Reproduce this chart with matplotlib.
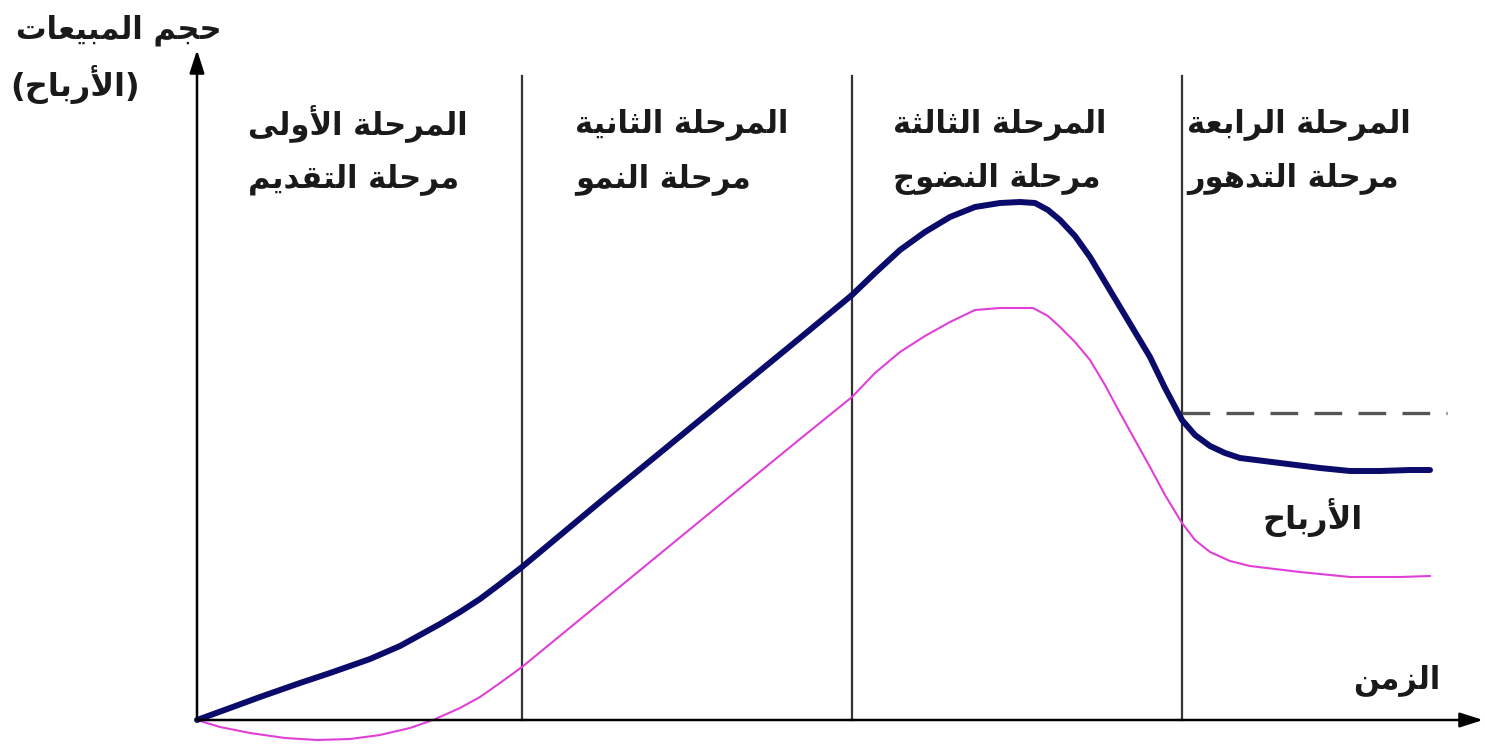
import matplotlib
matplotlib.use("Agg")
import matplotlib.pyplot as plt

# --- data (x: time, y: sales volume) ---
# origin of the chart sits at the corner of the two axes
sales_x = [0, 33, 63, 103, 133, 173, 203, 243, 263, 283, 303, 325,
           403, 503, 603,
           655, 678, 703, 728, 753, 778, 803, 823, 838, 851, 863, 878, 893, 908,
           923, 938, 953, 968, 985,
           998, 1013, 1028, 1043, 1083, 1123, 1153, 1183, 1213, 1233]
sales_y = [0, 12, 23, 37, 47, 61, 74, 96, 108, 121, 136, 153,
           218, 300, 382,
           425, 447, 470, 488, 503, 513, 517, 518, 517, 510, 500, 484, 463, 438,
           413, 388, 363, 332, 300,
           285, 274, 267, 262, 257, 252, 249, 249, 250, 250]

profit_x = [0, 23, 53, 88, 120, 153, 183, 213, 236, 263, 283, 303, 325,
            403, 503, 603,
            655, 678, 703, 728, 753, 778, 803, 836, 851, 863, 878, 893, 908, 923,
            938, 953, 968, 985,
            998, 1013, 1033, 1053, 1103, 1153, 1203, 1233]
profit_y = [0, -7, -13, -18, -20, -19, -15, -8, 0, 12, 23, 37, 53,
            117, 199, 281,
            323, 347, 368, 384, 398, 410, 412, 412, 404, 393, 378, 360, 335, 307,
            280, 253, 225, 197,
            180, 168, 159, 154, 148, 143, 143, 144]

stage_bounds = [325, 655, 985]
stage_top = 644
decline_ref = 307           # dashed reference level in the decline stage
x_end, y_end = 1286, 670    # arrow tips of the two axes

stage_line1 = ["المرحلة الأولى", "المرحلة الثانية", "المرحلة الثالثة", "المرحلة الرابعة"]
stage_line2 = ["مرحلة التقديم", "مرحلة النمو", "مرحلة النضوج", "مرحلة التدهور"]
stage_text_x = [51, 378, 696, 990]

y_title = ["حجم المبيعات", "(الأرباح)"]
x_title = "الزمن"
profit_label = "الأرباح"


# --- tiny Arabic shaper (no arabic_reshaper / bidi available) ---
FORMS = {
    'ا': (0xFE8D, 0xFE8E, None, None),
    'أ': (0xFE83, 0xFE84, None, None),
    'ب': (0xFE8F, 0xFE90, 0xFE91, 0xFE92),
    'ة': (0xFE93, 0xFE94, None, None),
    'ت': (0xFE95, 0xFE96, 0xFE97, 0xFE98),
    'ث': (0xFE99, 0xFE9A, 0xFE9B, 0xFE9C),
    'ج': (0xFE9D, 0xFE9E, 0xFE9F, 0xFEA0),
    'ح': (0xFEA1, 0xFEA2, 0xFEA3, 0xFEA4),
    'د': (0xFEA9, 0xFEAA, None, None),
    'ر': (0xFEAD, 0xFEAE, None, None),
    'ز': (0xFEAF, 0xFEB0, None, None),
    'ض': (0xFEBD, 0xFEBE, 0xFEBF, 0xFEC0),
    'ع': (0xFEC9, 0xFECA, 0xFECB, 0xFECC),
    'ق': (0xFED5, 0xFED6, 0xFED7, 0xFED8),
    'ل': (0xFEDD, 0xFEDE, 0xFEDF, 0xFEE0),
    'م': (0xFEE1, 0xFEE2, 0xFEE3, 0xFEE4),
    'ن': (0xFEE5, 0xFEE6, 0xFEE7, 0xFEE8),
    'ه': (0xFEE9, 0xFEEA, 0xFEEB, 0xFEEC),
    'و': (0xFEED, 0xFEEE, None, None),
    'ى': (0xFEEF, 0xFEF0, None, None),
    'ي': (0xFEF1, 0xFEF2, 0xFEF3, 0xFEF4),
}
LAM_ALEF = {'ا': (0xFEFB, 0xFEFC), 'أ': (0xFEF7, 0xFEF8)}


def shape(text):
    units = []
    i = 0
    while i < len(text):
        c = text[i]
        if c == 'ل' and i + 1 < len(text) and text[i + 1] in LAM_ALEF:
            units.append(('LA', text[i + 1]))
            i += 2
        else:
            units.append((c, None))
            i += 1

    def joins_next(u):
        if u[0] == 'LA':
            return False
        f = FORMS.get(u[0])
        return f is not None and f[2] is not None

    def is_letter(u):
        return u[0] == 'LA' or u[0] in FORMS

    out = []
    for k, u in enumerate(units):
        p = k > 0 and joins_next(units[k - 1])
        if u[0] == 'LA':
            iso, fin = LAM_ALEF[u[1]]
            out.append(chr(fin if p else iso))
            continue
        f = FORMS.get(u[0])
        if f is None:
            out.append(u[0])
            continue
        n = k + 1 < len(units) and is_letter(units[k + 1]) and f[2] is not None
        if p and n:
            ch = f[3]
        elif p:
            ch = f[1]
        elif n:
            ch = f[2]
        else:
            ch = f[0]
        out.append(chr(ch))
    vis = ''.join(reversed(out))
    return vis.translate(str.maketrans('()', ')('))


fig = plt.figure(figsize=(14.85, 7.44), dpi=100)
ax = fig.add_axes([0, 0, 1, 1])
ax.set_xlim(-197, 1288)
ax.set_ylim(-24, 720)
ax.axis('off')

txt = dict(fontfamily='DejaVu Sans', fontweight='bold', color='#1a1a1a')

# stage separators
for b in stage_bounds:
    ax.plot([b, b], [0, stage_top], color='#333333', lw=1.6, zorder=2)

ax.plot([stage_bounds[-1], 1250], [decline_ref, decline_ref], color='#555555',
        lw=2.4, linestyle=(0, (8.3, 4.9)), zorder=2)

ax.plot(profit_x, profit_y, color='#e040d8', lw=1.5, zorder=3, solid_joinstyle='round')
ax.plot(sales_x, sales_y, color='#0b0b6b', lw=4.3, zorder=4,
        solid_joinstyle='round', solid_capstyle='round')

# axes with arrow heads
ax.annotate('', xy=(x_end, 0), xytext=(0, 0),
            arrowprops=dict(arrowstyle='-|>,head_length=1.4,head_width=0.45',
                            color='black', lw=1.8, shrinkA=0, shrinkB=0), zorder=5)
ax.annotate('', xy=(0, y_end), xytext=(0, 0),
            arrowprops=dict(arrowstyle='-|>,head_length=1.4,head_width=0.45',
                            color='black', lw=1.8, shrinkA=0, shrinkB=0), zorder=5)

for xs, l1, l2 in zip(stage_text_x, stage_line1, stage_line2):
    ax.text(xs, 596, shape(l1), ha='left', va='center', fontsize=22, **txt)
    ax.text(xs, 541, shape(l2), ha='left', va='center', fontsize=22, **txt)

ax.text(25, 690, shape(y_title[0]), ha='right', va='center', fontsize=22, **txt)
ax.text(-187, 635, shape(y_title[1]), ha='left', va='center', fontsize=23, **txt)
ax.text(1200, 40, shape(x_title), ha='center', va='center', fontsize=22, **txt)
ax.text(1116, 202, shape(profit_label), ha='center', va='center', fontsize=23, **txt)

fig.savefig('out.png', dpi=100, facecolor='white')
